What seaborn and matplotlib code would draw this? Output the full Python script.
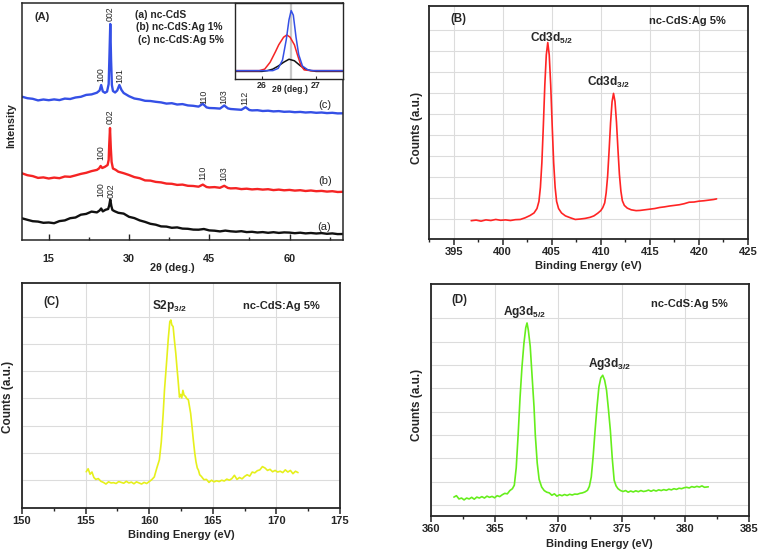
import matplotlib
matplotlib.use("Agg")
import matplotlib.pyplot as plt
import seaborn as sns
from matplotlib.ticker import MultipleLocator

# ---------------- data ----------------
# Panel A: XRD patterns (2theta in deg, intensity in arbitrary units)
xrd_a = [(10, 21.7), (11, 20.2), (12, 18.8), (13, 18.4), (14, 17.2), (15, 17.5), (16, 16.8), (17, 18.9),
         (18, 19.6), (19, 21.8), (20, 22.5), (21, 25.3), (22, 26.1), (23, 28.4), (24, 27.6), (24.5, 29.5),
         (24.8, 31.5), (25.1, 28.6), (25.6, 30.2), (26.1, 31.0), (26.3, 34.5), (26.5, 40.5), (26.7, 34.0),
         (26.9, 30.0), (27.3, 28.8), (28, 27.2), (29, 26.4), (30, 23.2), (31, 21.9), (32, 19.6), (33, 18.1),
         (34, 16.2), (35, 15.3), (36, 13.6), (37, 13.4), (38, 12.2), (39, 12.6), (40, 11.4), (41, 11.2),
         (42, 10.4), (43, 10.3), (44, 11.0), (45, 9.6), (46, 9.3), (47, 8.6), (48, 9.4), (49, 8.7), (50, 8.3),
         (51, 8.8), (52, 7.9), (53, 8.2), (54, 7.5), (55, 7.9), (56, 7.2), (57, 7.8), (58, 7.1), (59, 7.6),
         (60, 7.4), (61, 6.8), (62, 7.3), (63, 6.6), (64, 7.0), (65, 6.5), (66, 6.9), (67, 6.2), (68, 6.6),
         (69, 5.9), (70, 6.0)]
xrd_b = [(10, 66.7), (11, 64.8), (12, 63.9), (13, 62.1), (14, 62.6), (15, 61.5), (16, 62.4), (17, 61.8),
         (18, 63.5), (19, 63.2), (20, 64.6), (21, 66.1), (22, 67.2), (23, 68.9), (24, 70.1), (24.4, 71.6),
         (24.7, 74.0), (25.0, 72.0), (25.5, 73.2), (26.0, 75.0), (26.2, 80.0), (26.3, 95.0), (26.45, 112.0),
         (26.6, 92.0), (26.75, 78.0), (27.0, 71.5), (27.5, 70.2), (28, 68.3), (29, 66.8), (30, 65.0),
         (31, 62.9), (32, 61.8), (33, 59.6), (34, 59.4), (35, 58.1), (36, 57.6), (37, 56.4), (38, 56.2),
         (39, 55.1), (40, 55.4), (41, 54.2), (42, 54.0), (43, 53.3), (43.8, 55.4), (44.5, 53.0), (45, 52.6),
         (46, 52.9), (47, 52.2), (47.8, 54.2), (48.5, 52.0), (49, 51.6), (50, 51.8), (51, 50.9), (52, 51.3),
         (53, 50.6), (54, 51.0), (55, 50.4), (56, 50.8), (57, 49.9), (58, 50.4), (59, 49.7), (60, 50.1),
         (61, 49.4), (62, 49.8), (63, 49.0), (64, 49.5), (65, 48.8), (66, 49.1), (67, 48.4), (68, 48.8),
         (69, 48.0), (70, 48.2)]
xrd_c = [(10, 143.3), (11, 141.8), (12, 141.2), (13, 139.6), (14, 140.5), (15, 139.8), (16, 140.6),
         (17, 139.9), (18, 141.4), (19, 141.0), (20, 142.5), (21, 143.2), (22, 145.1), (23, 145.6),
         (24, 147.3), (24.5, 149.5), (24.8, 155.0), (25.1, 148.6), (25.5, 147.2), (25.9, 148.4),
         (26.2, 156.0), (26.35, 185.0), (26.5, 216.0), (26.65, 180.0), (26.8, 155.0), (27.0, 149.0),
         (27.4, 147.5), (27.8, 149.5), (28.2, 155.0), (28.6, 150.0), (29.0, 147.0), (30, 143.8), (31, 141.5),
         (32, 140.6), (33, 139.2), (34, 139.0), (35, 138.2), (36, 137.6), (37, 136.4), (38, 136.8),
         (39, 135.5), (40, 135.9), (41, 134.6), (42, 134.2), (43, 133.4), (43.8, 136.2), (44.5, 132.6),
         (45, 132.0), (46, 131.8), (47, 131.4), (47.8, 134.5), (48.5, 131.6), (49, 131.0), (50, 130.6),
         (51, 130.2), (51.8, 132.8), (52.5, 130.0), (53, 129.6), (54, 129.8), (55, 129.0), (56, 129.3),
         (57, 128.6), (58, 128.9), (59, 128.2), (60, 128.4), (61, 127.8), (62, 128.1), (63, 127.5),
         (64, 127.8), (65, 127.2), (66, 127.5), (67, 126.9), (68, 127.2), (69, 126.6), (70, 126.7)]

# peak index labels: (text, 2theta, intensity at label bottom)
peak_labels = [("002", 26.5, 219), ("100", 24.8, 158), ("101", 28.2, 157), ("110", 43.9, 136),
               ("103", 47.8, 136), ("112", 51.7, 135),
               ("002", 26.45, 116), ("100", 24.7, 80), ("110", 43.8, 60), ("103", 47.8, 59),
               ("100", 24.7, 43), ("002", 26.7, 42)]
curve_tags = [("(a)", 67.8, 13), ("(b)", 67.9, 59), ("(c)", 67.9, 135)]
legend_lines = ["(a) nc-CdS", "(b) nc-CdS:Ag 1%", "(c) nc-CdS:Ag 5%"]

# Inset of panel A: (002) peak region
inset_a = [(25.5, 0.10), (26.0, 0.10), (26.1, 0.11), (26.2, 0.13), (26.3, 0.17), (26.4, 0.22),
           (26.5, 0.26), (26.6, 0.24), (26.7, 0.18), (26.8, 0.13), (26.9, 0.11), (27.0, 0.10), (27.5, 0.10)]
inset_b = [(25.5, 0.11), (25.95, 0.11), (26.05, 0.13), (26.15, 0.22), (26.25, 0.36), (26.31, 0.45),
           (26.4, 0.55), (26.46, 0.58), (26.52, 0.55), (26.6, 0.45), (26.66, 0.31), (26.72, 0.18),
           (26.78, 0.12), (26.9, 0.11), (27.5, 0.11)]
inset_c = [(25.5, 0.11), (26.2, 0.11), (26.3, 0.14), (26.38, 0.25), (26.45, 0.52), (26.5, 0.78),
           (26.54, 0.90), (26.58, 0.84), (26.63, 0.55), (26.68, 0.32), (26.75, 0.17), (26.85, 0.12),
           (26.95, 0.11), (27.5, 0.11)]
inset_ref_line = 26.54

# Panel B: Cd 3d XPS (binding energy eV, counts a.u.)
xps_cd = [(396.8, -0.08), (397.3, -0.05), (397.8, -0.10), (398.3, -0.04), (398.8, -0.07), (399.3, -0.02),
          (399.8, -0.06), (400.3, -0.04), (400.8, -0.07), (401.3, -0.03), (401.8, -0.02), (402.3, 0.06),
          (402.8, 0.17), (403.2, 0.29), (403.5, 0.50), (403.7, 0.84), (403.85, 1.51), (404.0, 2.69),
          (404.15, 4.45), (404.3, 6.38), (404.45, 7.81), (404.6, 8.40), (404.75, 7.81), (404.9, 6.38),
          (405.05, 4.45), (405.2, 2.69), (405.35, 1.51), (405.5, 0.84), (405.7, 0.50), (406.0, 0.29),
          (406.4, 0.15), (406.9, 0.06), (407.4, -0.02), (407.9, 0.00), (408.4, 0.03), (408.9, 0.08),
          (409.3, 0.15), (409.7, 0.28), (410.0, 0.40), (410.2, 0.54), (410.4, 0.77), (410.55, 1.25),
          (410.7, 2.05), (410.85, 3.27), (411.0, 4.59), (411.15, 5.58), (411.3, 5.98), (411.45, 5.59),
          (411.6, 4.62), (411.75, 3.32), (411.9, 2.12), (412.05, 1.33), (412.2, 0.87), (412.4, 0.65),
          (412.7, 0.52), (413.1, 0.44), (413.6, 0.40), (414.0, 0.41), (414.5, 0.44), (415.0, 0.47),
          (415.5, 0.50), (416.0, 0.55), (416.5, 0.58), (417.0, 0.62), (417.5, 0.65), (418.0, 0.68),
          (418.5, 0.73), (419.0, 0.80), (419.5, 0.81), (420.0, 0.85), (420.5, 0.87), (421.0, 0.90),
          (421.5, 0.93), (421.8, 0.96)]

# Panel C: S 2p XPS
xps_s = [(155.05, 0.31), (155.2, 0.42), (155.35, 0.22), (155.5, 0.30), (155.65, 0.10), (155.8, 0.03),
         (156.0, 0.06), (156.2, -0.04), (156.4, -0.08), (156.6, -0.14), (156.8, -0.06), (157.0, -0.10),
         (157.2, -0.09), (157.4, -0.12), (157.6, -0.05), (157.8, -0.08), (158.0, -0.11), (158.2, -0.04),
         (158.4, -0.10), (158.6, -0.07), (158.8, -0.13), (159.0, -0.06), (159.2, -0.10), (159.4, -0.14),
         (159.6, -0.08), (159.8, -0.12), (160.0, -0.05), (160.2, 0.02), (160.4, 0.12), (160.6, 0.45),
         (160.8, 0.75), (160.95, 1.40), (161.1, 2.45), (161.2, 3.30), (161.36, 4.29), (161.5, 5.20),
         (161.62, 5.82), (161.7, 5.88), (161.78, 5.70), (161.88, 5.64), (161.98, 5.15), (162.09, 4.66),
         (162.18, 4.15), (162.27, 3.68), (162.38, 3.05), (162.47, 3.15), (162.56, 3.02), (162.65, 3.30),
         (162.74, 3.12), (162.85, 3.08), (162.95, 3.00), (163.08, 2.95), (163.17, 2.70), (163.26, 2.45),
         (163.37, 1.95), (163.47, 1.47), (163.58, 1.00), (163.68, 0.67), (163.78, 0.45), (163.87, 0.37),
         (163.97, 0.20), (164.1, 0.14), (164.3, 0.02), (164.5, 0.03), (164.7, -0.08), (164.9, 0.00),
         (165.1, -0.06), (165.3, -0.02), (165.5, -0.05), (165.7, 0.00), (165.9, -0.03), (166.1, 0.04),
         (166.3, 0.00), (166.5, 0.06), (166.7, 0.18), (166.9, 0.03), (167.1, 0.10), (167.3, 0.05),
         (167.5, 0.14), (167.7, 0.20), (167.9, 0.15), (168.1, 0.30), (168.3, 0.27), (168.5, 0.35),
         (168.7, 0.38), (168.9, 0.50), (169.1, 0.45), (169.3, 0.36), (169.5, 0.40), (169.7, 0.31),
         (169.9, 0.36), (170.1, 0.30), (170.3, 0.33), (170.5, 0.28), (170.7, 0.38), (170.9, 0.30),
         (171.1, 0.36), (171.3, 0.24), (171.5, 0.33), (171.7, 0.28)]

# Panel D: Ag 3d XPS
xps_ag = [(361.8, 0.34), (362.0, 0.40), (362.2, 0.26), (362.4, 0.30), (362.6, 0.22), (362.8, 0.30),
          (363.0, 0.26), (363.2, 0.33), (363.4, 0.25), (363.6, 0.34), (363.8, 0.30), (364.0, 0.36),
          (364.2, 0.30), (364.4, 0.38), (364.6, 0.33), (364.8, 0.37), (365.0, 0.31), (365.2, 0.40),
          (365.4, 0.36), (365.6, 0.44), (365.8, 0.50), (366.0, 0.48), (366.2, 0.62), (366.4, 0.70),
          (366.55, 0.85), (366.7, 1.6), (366.85, 3.0), (367.0, 4.6), (367.15, 5.9), (367.3, 6.9),
          (367.45, 7.6), (367.55, 7.8), (367.65, 7.5), (367.8, 6.8), (367.95, 5.5), (368.1, 4.2),
          (368.2, 3.0), (368.35, 1.8), (368.5, 1.1), (368.7, 0.77), (368.9, 0.62), (369.1, 0.55),
          (369.3, 0.52), (369.5, 0.42), (369.7, 0.48), (369.9, 0.38), (370.1, 0.44), (370.3, 0.40),
          (370.5, 0.45), (370.7, 0.41), (370.9, 0.46), (371.1, 0.43), (371.3, 0.47), (371.5, 0.46),
          (371.7, 0.50), (371.9, 0.52), (372.1, 0.56), (372.3, 0.63), (372.45, 0.80), (372.6, 1.2),
          (372.75, 2.1), (372.9, 3.2), (373.05, 4.2), (373.2, 5.06), (373.35, 5.45), (373.5, 5.56),
          (373.65, 5.35), (373.8, 4.92), (373.95, 4.1), (374.1, 3.2), (374.25, 2.0), (374.4, 1.06),
          (374.55, 0.82), (374.7, 0.70), (374.9, 0.62), (375.1, 0.58), (375.3, 0.62), (375.5, 0.55),
          (375.7, 0.60), (375.9, 0.56), (376.1, 0.61), (376.3, 0.57), (376.5, 0.62), (376.7, 0.58),
          (376.9, 0.60), (377.1, 0.64), (377.3, 0.59), (377.5, 0.64), (377.7, 0.60), (377.9, 0.65),
          (378.1, 0.62), (378.3, 0.66), (378.5, 0.63), (378.7, 0.68), (378.9, 0.65), (379.1, 0.70),
          (379.3, 0.67), (379.5, 0.72), (379.7, 0.70), (379.9, 0.74), (380.1, 0.76), (380.3, 0.73),
          (380.5, 0.79), (380.7, 0.76), (380.9, 0.80), (381.1, 0.77), (381.3, 0.82), (381.5, 0.76),
          (381.8, 0.78)]

sample_label = "nc-CdS:Ag 5%"

# ---------------- style ----------------
sns.set_style("ticks")
plt.rcParams["font.family"] = ["Liberation Sans", "DejaVu Sans"]
plt.rcParams["mathtext.fontset"] = "custom"
plt.rcParams["mathtext.rm"] = "Liberation Sans"
plt.rcParams["mathtext.bf"] = "Liberation Sans:bold"
plt.rcParams["mathtext.it"] = "Liberation Sans:italic"

W, H = 761, 551
fig = plt.figure(figsize=(W / 100, H / 100), dpi=100)


def rect(l, t, r, b):
    return [l / W, 1 - b / H, (r - l) / W, (b - t) / H]


def ftext(px, py, s, **kw):
    fig.text(px / W, 1 - py / H, s, **kw)


def draw(ax, pts, color, lw):
    xs = [p[0] for p in pts]
    ys = [p[1] for p in pts]
    sns.lineplot(x=xs, y=ys, ax=ax, color=color, linewidth=lw, estimator=None, sort=False, legend=False)


BLUE, RED, BLACK = "#3550e6", "#f52424", "#111111"

# ---------------- Panel A ----------------
axA = fig.add_axes(rect(22, 3, 343, 240))
draw(axA, xrd_a, BLACK, 1.7)
draw(axA, xrd_b, RED, 1.7)
draw(axA, xrd_c, BLUE, 1.7)
axA.set_xlim(10, 70)
axA.set_ylim(0, 237)
axA.xaxis.set_major_locator(MultipleLocator(15))
axA.xaxis.set_minor_locator(MultipleLocator(7.5))
axA.set_yticks([])
axA.tick_params(axis="x", which="major", direction="in", length=4, width=1, pad=10,
                labelsize=7.8)
axA.tick_params(axis="x", which="minor", direction="in", length=2.5, width=1)
for lab in axA.get_xticklabels():
    lab.set_fontweight("bold")
for s in axA.spines.values():
    s.set_linewidth(1.1)
    s.set_visible(True)
axA.set_xlabel("")
axA.set_ylabel("")
for txt, x, y in peak_labels:
    axA.text(x, y, txt, rotation=90, ha="center", va="bottom", fontsize=6.3)
for txt, x, y in curve_tags:
    axA.text(x, y, txt, ha="right", va="center", fontsize=8)
ftext(42.5, 17.5, "(A)", ha="center", va="center", fontsize=8, fontweight="bold")
ftext(135, 15.5, legend_lines[0], ha="left", va="center", fontsize=7.4, fontweight="bold")
ftext(136, 27.5, legend_lines[1], ha="left", va="center", fontsize=7.4, fontweight="bold")
ftext(138, 40, legend_lines[2], ha="left", va="center", fontsize=7.4, fontweight="bold")
ftext(172, 268, "2θ (deg.)", ha="center", va="center", fontsize=7.8, fontweight="bold")
ftext(11, 126, "Intensity", ha="center", va="center", rotation=90, fontsize=7.8, fontweight="bold")

# Inset
axI = fig.add_axes(rect(235, 3, 343, 79))
axI.axvline(inset_ref_line, color="#c8c8c8", linewidth=1.6, zorder=0)
draw(axI, inset_a, BLACK, 1.1)
draw(axI, inset_b, RED, 1.1)
draw(axI, inset_c, BLUE, 1.1)
axI.set_xlim(25.5, 27.5)
axI.set_ylim(0, 1)
axI.set_xticks([26, 27])
axI.set_yticks([])
axI.tick_params(axis="x", direction="in", length=2.5, pad=1.5, labelsize=6.3)
for lab in axI.get_xticklabels():
    lab.set_fontweight("bold")
for s in axI.spines.values():
    s.set_linewidth(1.0)
    s.set_visible(True)
axI.set_xlabel("")
axI.set_ylabel("")
ftext(290, 89, "2θ (deg.)", ha="center", va="center", fontsize=6.3, fontweight="bold")


def xps_axes(r, xlim, ylim, nyg):
    ax = fig.add_axes(rect(*r))
    ax.set_xlim(*xlim)
    ax.set_ylim(*ylim)
    ax.xaxis.set_major_locator(MultipleLocator(5))
    ax.xaxis.set_minor_locator(MultipleLocator(2.5))
    ax.set_yticks(list(range(nyg)))
    ax.tick_params(axis="y", length=0, labelleft=False)
    ax.tick_params(axis="x", which="major", direction="out", length=4.5, width=1.1, pad=1.5,
                   labelsize=8)
    ax.tick_params(axis="x", which="minor", direction="out", length=2.2, width=1.0)
    ax.grid(True, which="major", color="#dcdcdc", linewidth=0.8)
    ax.set_axisbelow(True)
    for s in ax.spines.values():
        s.set_linewidth(1.3)
        s.set_visible(True)
    for lab in ax.get_xticklabels():
        lab.set_fontweight("bold")
    return ax


# ---------------- Panel B ----------------
axB = xps_axes((429, 6, 748, 239), (392.5, 425), (-0.95, 10.14), 10)
draw(axB, xps_cd, "#ff2424", 1.2)
axB.set_xlabel("")
axB.set_ylabel("")
ftext(458, 19, "(B)", ha="center", va="center", fontsize=8.3, fontweight="bold")
ftext(649, 21, sample_label, ha="left", va="center", fontsize=8, fontweight="bold")
ftext(530, 41.5, r"Cd3d$_{\mathbf{5/2}}$", ha="left", va="baseline", fontsize=8.6, fontweight="bold")
ftext(587, 85.5, r"Cd3d$_{\mathbf{3/2}}$", ha="left", va="baseline", fontsize=8.6, fontweight="bold")
ftext(588, 266, "Binding Energy (eV)", ha="center", va="center", fontsize=8, fontweight="bold")
ftext(417, 128, "Counts (a.u.)", ha="center", va="center", rotation=90, fontsize=8.5,
      fontweight="bold")

# ---------------- Panel C ----------------
axC = xps_axes((22, 283, 340, 508), (150, 175), (-1.02, 7.24), 7)
draw(axC, xps_s, "#e6f01c", 1.2)
axC.set_xlabel("")
axC.set_ylabel("")
ftext(51.7, 302.5, "(C)", ha="center", va="center", fontsize=8.3, fontweight="bold")
ftext(243, 306, sample_label, ha="left", va="center", fontsize=8, fontweight="bold")
ftext(151.7, 309, r"S2p$_{\mathbf{3/2}}$", ha="left", va="baseline", fontsize=8.6, fontweight="bold")
ftext(181, 535, "Binding Energy (eV)", ha="center", va="center", fontsize=8, fontweight="bold")
ftext(8.5, 397, "Counts (a.u.)", ha="center", va="center", rotation=90, fontsize=8.5,
      fontweight="bold")

# ---------------- Panel D ----------------
axD = xps_axes((431, 284, 749, 516), (360, 385), (-0.47, 9.47), 9)
draw(axD, xps_ag, "#66ee1c", 1.2)
axD.set_xlabel("")
axD.set_ylabel("")
ftext(459, 300, "(D)", ha="center", va="center", fontsize=8.3, fontweight="bold")
ftext(651, 304, sample_label, ha="left", va="center", fontsize=8, fontweight="bold")
ftext(503, 315, r"Ag3d$_{\mathbf{5/2}}$", ha="left", va="baseline", fontsize=8.6, fontweight="bold")
ftext(588, 367, r"Ag3d$_{\mathbf{3/2}}$", ha="left", va="baseline", fontsize=8.6, fontweight="bold")
ftext(599, 544, "Binding Energy (eV)", ha="center", va="center", fontsize=8, fontweight="bold")
ftext(416.7, 405, "Counts (a.u.)", ha="center", va="center", rotation=90, fontsize=8.5,
      fontweight="bold")

fig.savefig("out.png", dpi=100)
